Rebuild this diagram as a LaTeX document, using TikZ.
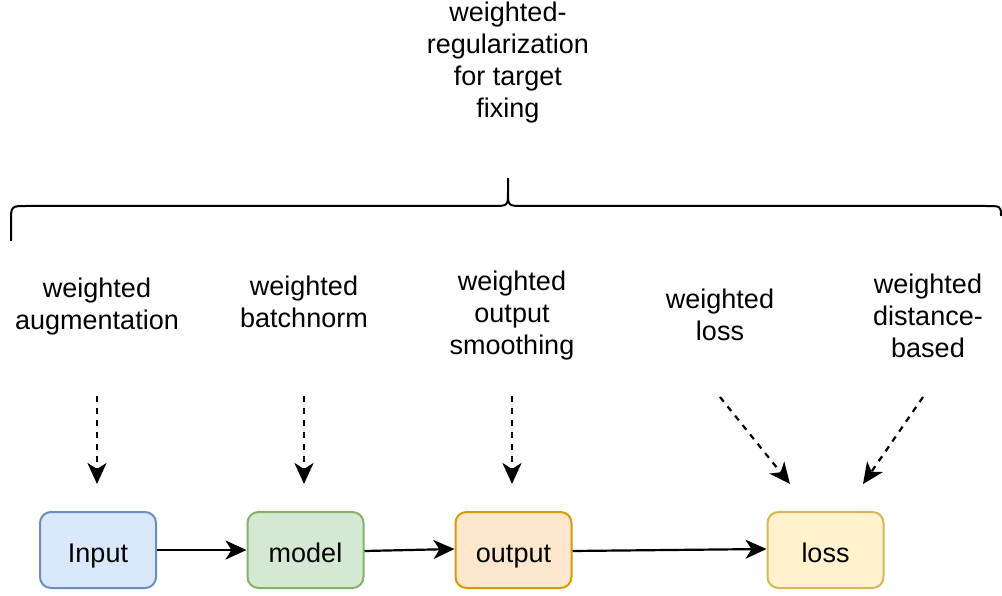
\documentclass[tikz,border=0pt]{standalone}
\usepackage{fontspec}
\setmainfont{Liberation Sans}
\usetikzlibrary{arrows.meta}
\begin{document}
\begin{tikzpicture}[x=1pt,y=-1pt,
  every node/.style={font=\fontsize{27}{32}\selectfont},
  box/.style={draw, line width=2pt, rounded corners=11pt, minimum width=116pt, minimum height=76pt, inner sep=0pt, text height=26pt, text depth=2pt},
  lbl/.style={align=center, inner sep=0pt},
  arr/.style={line width=2.2pt, -{Stealth[length=21pt,width=19pt,inset=6pt]}},
  darr/.style={line width=2.2pt, dash pattern=on 6pt off 6pt, -{Stealth[length=21pt,width=19pt,inset=6pt]}}
]
\useasboundingbox (0,0) rectangle (1002,596);
\definecolor{inF}{HTML}{DAE8FC}\definecolor{inS}{HTML}{6C8EBF}
\definecolor{moF}{HTML}{D5E8D4}\definecolor{moS}{HTML}{82B366}
\definecolor{ouF}{HTML}{FFE6CC}\definecolor{ouS}{HTML}{D79B00}
\definecolor{loF}{HTML}{FFF2CC}\definecolor{loS}{HTML}{D6B656}

\node[box, fill=inF, draw=inS] (input) at (98,550) {Input};
\node[box, fill=moF, draw=moS] (model) at (305.5,550) {model};
\node[box, fill=ouF, draw=ouS] (output) at (513.5,550) {output};
\node[box, fill=loF, draw=loS] (loss) at (825.5,550) {loss};

\draw[arr] (input.east) -- (model.west);
\draw[arr] ([yshift=-1pt]model.east) -- ([yshift=1pt]output.west);
\draw[arr] ([yshift=-1pt]output.east) -- ([yshift=1pt]loss.west);

\node[lbl] (top) at (508,63) {weighted-\\regularization\\for target\\fixing};
\node[lbl] (aug) at (97,307) {weighted\\augmentation};
\node[lbl] (bn) at (304,302) {weighted\\batchnorm};
\node[lbl] (smo) at (512,316) {weighted\\output\\smoothing};
\node[lbl] (wl) at (720,315) {weighted\\loss};
\node[lbl] (dist) at (928,316) {weighted\\distance-\\based};

\coordinate (a1) at (97,396);
\coordinate (a2) at (304,396);
\coordinate (a3) at (512,396);
\coordinate (a4) at (720,397);
\coordinate (a5) at (923,397);
\coordinate (b1) at (97,484);
\coordinate (b2) at (304,484);
\coordinate (b3) at (512,484);
\coordinate (b4) at (790,484);
\coordinate (b5) at (863,484);
\draw[darr] (a1) -- (b1);
\draw[darr] (a2) -- (b2);
\draw[darr] (a3) -- (b3);
\draw[darr] (a4) -- (b4);
\draw[darr] (a5) -- (b5);

\coordinate (brL) at (11,241);
\coordinate (brR) at (1001,216);
\coordinate (brT) at (508,178);
\draw[line width=2pt] (brL) -- (11,222) .. controls (11,206) .. (27,206)
  -- (492,206) .. controls (508,206) .. (508,192) -- (brT)
  (508,192) .. controls (508,206) .. (524,206) -- (985,206) .. controls (1001,206) .. (brR);
\end{tikzpicture}
\end{document}
